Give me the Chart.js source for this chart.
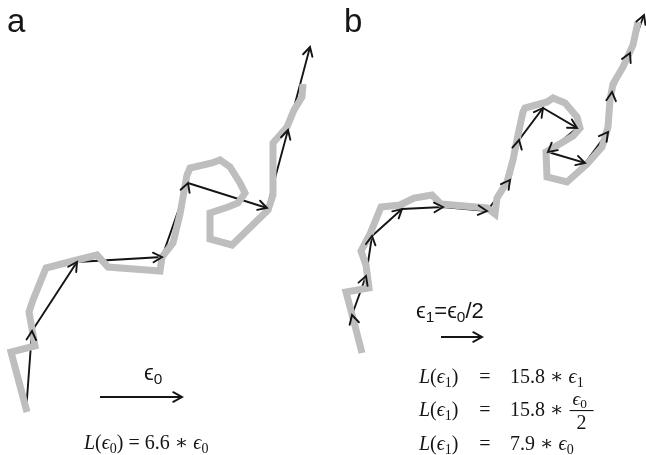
<!DOCTYPE html>
<html>
<head>
<meta charset="utf-8">
<script src="https://cdn.jsdelivr.net/npm/chart.js@4"></script>
<style>
  html, body { margin: 0; padding: 0; background: #fff; }
</style>
</head>
<body>
<canvas id="coast" width="646" height="455"></canvas>
<script>
// figure units: x to the right, y downward (y scale is reversed)

// panel a: coastline and the ruler of length eps0
const coastA = [[27,412],[11,352],[35,346],[29,312],[33,300],[46,268],[77,260],[97,255],[108,267],[160,271],[162,257],[173,243],[180,214],[187,175],[190,168],[212,163],[220,160],[230,167],[240,183],[245,193],[238,203],[228,207],[210,213],[210,239],[232,245],[268,210],[273,195],[273,143],[287,127],[294,110],[302,97],[303,84]]
const rulerA = [[26,412],[32,331],[77,262],[162,257],[188,183],[267,208],[288,130],[310,47]]

// panel b: same coastline, ruler eps1 = eps0 / 2
const coastB = [[362,353],[354,322],[346,292],[369,288],[366,265],[361,251],[370,234],[381,207],[400,205],[414,198],[432,195],[441,204],[487,208],[495,214],[497,198],[507,182],[513,160],[518,135],[523,112],[525,108],[547,102],[553,98],[565,103],[577,117],[580,128],[573,136],[563,142],[546,152],[547,177],[567,182],[587,164],[602,147],[608,127],[610,100],[613,84],[623,67],[633,45],[638,22]]
const rulerB = [[362,352],[352,315],[366,276],[372,236],[402,209],[443,207],[487,211],[510,180],[519,140],[543,108],[577,128],[548,152],[585,163],[608,132],[612,92],[630,53],[644,15]]

// scale bars
const barA = [[100,397],[182,397]]
const barB = [[441,337],[482,337]]

const GRAY = '#bdbec0'
const INK = '#151515'
const HEAD = 10
const SPREAD = 0.5

const toPts = arr => arr.map(([x, y]) => ({ x, y }))

const coastLine = data => ({
  data: toPts(data),
  showLine: true,
  borderColor: GRAY,
  borderWidth: 7,
  borderJoinStyle: 'miter',
  pointRadius: 0,
  tension: 0
})

const arrowLine = data => ({
  data: toPts(data),
  showLine: true,
  borderColor: INK,
  borderWidth: 1.9,
  pointRadius: 0,
  tension: 0,
  arrows: true
})

const arrowHeads = {
  id: 'arrowHeads',
  afterDatasetsDraw(chart) {
    const ctx = chart.ctx
    chart.data.datasets.forEach((ds, i) => {
      if (!ds.arrows) return
      const pts = chart.getDatasetMeta(i).data
      ctx.save()
      ctx.strokeStyle = ds.borderColor
      ctx.lineWidth = ds.borderWidth
      ctx.lineCap = 'round'
      for (let k = 1; k < pts.length; k++) {
        const a = pts[k - 1], b = pts[k]
        const ang = Math.atan2(b.y - a.y, b.x - a.x)
        ctx.beginPath()
        ctx.moveTo(b.x - HEAD * Math.cos(ang - SPREAD), b.y - HEAD * Math.sin(ang - SPREAD))
        ctx.lineTo(b.x, b.y)
        ctx.lineTo(b.x - HEAD * Math.cos(ang + SPREAD), b.y - HEAD * Math.sin(ang + SPREAD))
        ctx.stroke()
      }
      ctx.restore()
    })
  }
}

const SANS = '"Liberation Sans", Arial, "DejaVu Sans", sans-serif'
const SERIF = '"Liberation Serif", "DejaVu Serif", serif'

// draw a run of text pieces, subscripts smaller and lowered
const drawRuns = (ctx, runs, x, y, size, family) => {
  let cx = x
  runs.forEach(r => {
    const s = r.sub ? size * 0.7 : size
    ctx.font = (r.it ? 'italic ' : '') + s + 'px ' + family
    ctx.fillText(r.t, cx, y + (r.sub ? size * 0.18 : 0))
    cx += ctx.measureText(r.t).width
  })
  return cx
}

const Lof = n => [{ t: 'L', it: true }, { t: '(' }, { t: 'ϵ', it: true }, { t: n, sub: true }, { t: ')' }]

const labels = {
  id: 'labels',
  afterDraw(chart) {
    const { ctx, scales: { x, y } } = chart
    const px = v => x.getPixelForValue(v)
    const py = v => y.getPixelForValue(v)
    ctx.save()
    ctx.fillStyle = INK
    ctx.textBaseline = 'alphabetic'

    ctx.font = '33px ' + SANS
    ctx.fillText('a', px(7), py(32))
    ctx.fillText('b', px(344), py(32))

    drawRuns(ctx, [{ t: 'ϵ' }, { t: '0', sub: true }], px(144), py(380), 22, SANS)
    drawRuns(ctx, [{ t: 'ϵ' }, { t: '1', sub: true }, { t: '=ϵ' }, { t: '0', sub: true }, { t: '/2' }], px(416), py(318), 22, SANS)

    const fs = 20
    // panel a
    drawRuns(ctx, Lof('0').concat([{ t: ' = 6.6 ∗ ' }, { t: 'ϵ', it: true }, { t: '0', sub: true }]), px(84), py(449), fs, SERIF)

    // panel b, aligned on "="
    const rows = [383, 416, 450]
    rows.forEach(r => {
      drawRuns(ctx, Lof('1'), px(419), py(r), fs, SERIF)
      ctx.font = fs + 'px ' + SERIF
      ctx.textAlign = 'center'
      ctx.fillText('=', px(485), py(r))
      ctx.textAlign = 'left'
    })
    drawRuns(ctx, [{ t: '15.8 ∗ ' }, { t: 'ϵ', it: true }, { t: '1', sub: true }], px(510), py(383), fs, SERIF)
    const fx = drawRuns(ctx, [{ t: '15.8 ∗ ' }], px(510), py(416), fs, SERIF)
    // fraction eps0 / 2
    const fw = 24
    ctx.fillRect(fx + 1, py(410), fw, 1.1)
    drawRuns(ctx, [{ t: 'ϵ', it: true }, { t: '0', sub: true }], fx + 4, py(405), 19, SERIF)
    ctx.font = fs + 'px ' + SERIF
    ctx.fillText('2', fx + 8, py(429))
    drawRuns(ctx, [{ t: '7.9 ∗ ' }, { t: 'ϵ', it: true }, { t: '0', sub: true }], px(510), py(450), fs, SERIF)
    ctx.restore()
  }
}

new Chart(document.getElementById('coast'), {
  type: 'scatter',
  data: {
    datasets: [
      coastLine(coastA),
      coastLine(coastB),
      arrowLine(rulerA),
      arrowLine(rulerB),
      arrowLine(barA),
      arrowLine(barB)
    ]
  },
  options: {
    responsive: false,
    animation: false,
    events: [],
    layout: { padding: 0 },
    plugins: { legend: { display: false }, tooltip: { enabled: false } },
    scales: {
      x: { type: 'linear', display: false, min: 0, max: 646 },
      y: { type: 'linear', display: false, min: 0, max: 455, reverse: true }
    }
  },
  plugins: [arrowHeads, labels]
})
</script>
</body>
</html>
